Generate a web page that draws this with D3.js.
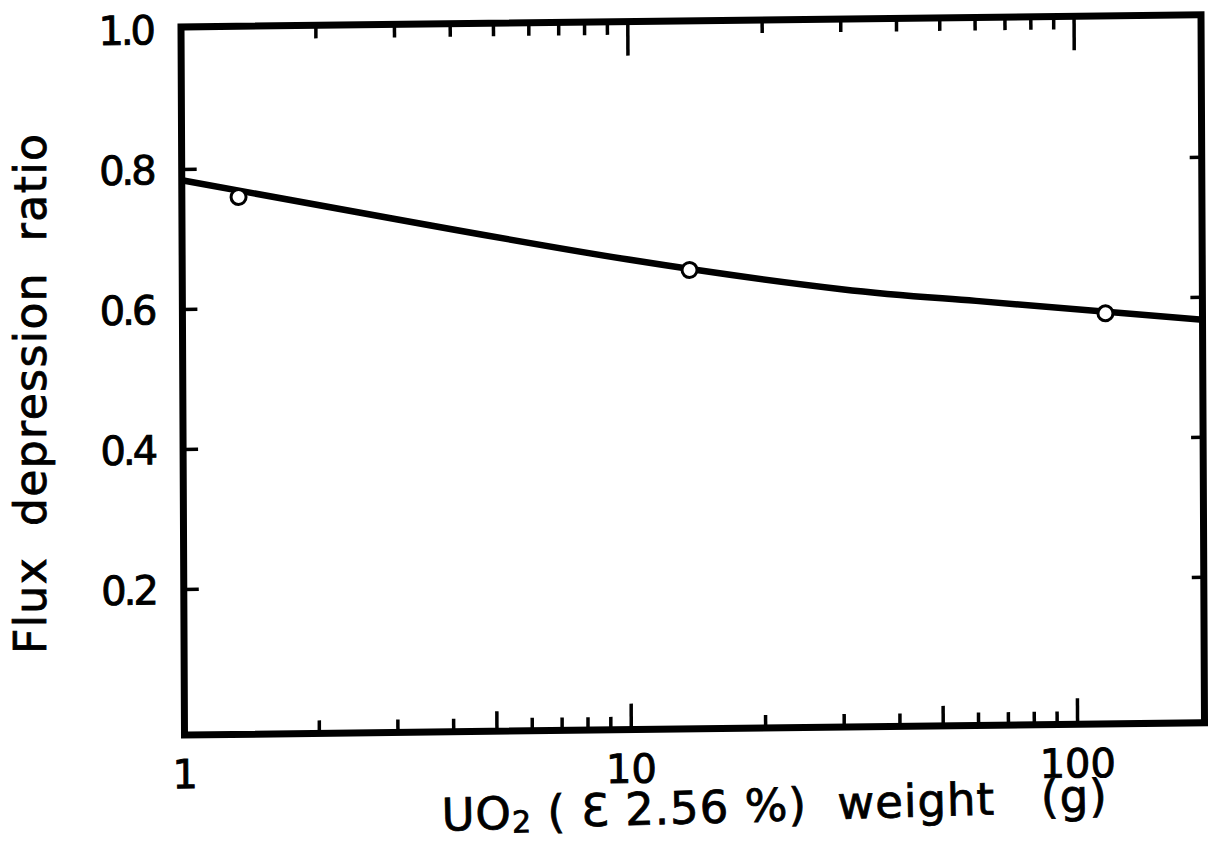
<!DOCTYPE html>
<html>
<head>
<meta charset="utf-8">
<script src="https://cdn.jsdelivr.net/npm/d3@7"></script>
<style>
  body { margin: 0; background: #fff; }
  text { font-family: "DejaVu Sans", sans-serif; fill: #000; white-space: pre; }
</style>
</head>
<body>
<svg id="chart" width="1209" height="846"></svg>
<script>
// measured points (UO2 weight in g, flux depression ratio)
var pointWeights = [1.34, 13.7, 117]
var pointRatios = [0.759, 0.647, 0.578]

// fitted curve
var curveWeights = [1, 3, 10, 30, 60, 193]
var curveRatios = [0.784, 0.725, 0.663, 0.617, 0.598, 0.567]

var yTickValues = [0.2, 0.4, 0.6, 0.8, 1.0]
var yTickLabels = ["0.2", "0.4", "0.6", "0.8", "1.0"]
var xMajorTicks = [1, 10, 100]
var xMidTicks = [5, 50]
var xMinorTicks = [2, 3, 4, 6, 7, 8, 9, 20, 30, 40, 60, 70, 80, 90]

var W = 1020
var H = 708

var svg = d3.select("#chart")

// the original is a slightly skewed scan, so the whole plot is sheared a bit
var g = svg.append("g")
  .attr("transform", "matrix(1, -0.012, 0.00495, 1, 181, 27)")

var x = d3.scaleLog().domain([1, 193]).range([0, W])
var y = d3.scaleLinear().domain([0, 1]).range([702, 2])

function tickAxis(axisFn, scale, values, size, tx, ty) {
  g.append("g")
    .attr("transform", "translate(" + tx + "," + ty + ")")
    .call(axisFn(scale).tickValues(values).tickSize(-size).tickFormat(""))
    .call(function(s) {
      s.select(".domain").remove()
      s.selectAll("line").attr("stroke", "#000").attr("stroke-width", 3.5)
    })
}

// bottom and top ticks point into the frame
tickAxis(d3.axisBottom, x, xMinorTicks, 13, 0, H)
tickAxis(d3.axisBottom, x, xMidTicks, 20, 0, H)
tickAxis(d3.axisBottom, x, xMajorTicks.slice(1), 26, 0, H)
tickAxis(d3.axisTop, x, xMinorTicks, 13, 0, 0)
tickAxis(d3.axisTop, x, xMidTicks, 13, 0, 0)
tickAxis(d3.axisTop, x, xMajorTicks.slice(1), 34, 0, 0)
tickAxis(d3.axisLeft, y, yTickValues.slice(0, 4), 15, 0, 0)
tickAxis(d3.axisRight, y, yTickValues.slice(0, 4), 12, W, 0)

// x tick labels
g.append("g")
  .attr("transform", "translate(0," + H + ")")
  .call(d3.axisBottom(x).tickValues(xMajorTicks).tickSize(0).tickPadding(0)
    .tickFormat(d3.format("d")))
  .call(function(s) {
    s.select(".domain").remove()
    s.selectAll("text")
      .attr("y", 53)
      .attr("dy", null)
      .attr("font-size", 40)
      .attr("stroke", "#000")
      .attr("stroke-width", 0.9)
      .style("font-family", "DejaVu Sans")
  })

// y tick labels
g.append("g")
  .call(d3.axisLeft(y).tickValues(yTickValues).tickSize(0).tickPadding(28)
    .tickFormat(function(d, i) { return yTickLabels[i] }))
  .call(function(s) {
    s.select(".domain").remove()
    s.selectAll("text")
      .attr("dy", "0.36em")
      .attr("font-size", 40)
      .attr("letter-spacing", -3)
      .attr("stroke", "#000")
      .attr("stroke-width", 0.9)
      .style("font-family", "DejaVu Sans")
  })

var curve = d3.line()
  .x(function(d) { return x(d[0]) })
  .y(function(d) { return y(d[1]) })
  .curve(d3.curveNatural)

g.append("path")
  .datum(d3.zip(curveWeights, curveRatios))
  .attr("d", curve)
  .attr("fill", "none")
  .attr("stroke", "#000")
  .attr("stroke-width", 6.5)

g.selectAll(".point")
  .data(d3.zip(pointWeights, pointRatios))
  .enter().append("circle")
  .attr("class", "point")
  .attr("cx", function(d) { return x(d[0]) })
  .attr("cy", function(d) { return y(d[1]) })
  .attr("r", 7.5)
  .attr("fill", "#fff")
  .attr("stroke", "#000")
  .attr("stroke-width", 3)

// frame
g.append("rect")
  .attr("x", 0)
  .attr("y", 0)
  .attr("width", W)
  .attr("height", H)
  .attr("fill", "none")
  .attr("stroke", "#000")
  .attr("stroke-width", 7)

// axis titles
var xTitle = g.append("text")
  .attr("transform", "translate(590,801) rotate(-1.0)")
  .attr("text-anchor", "middle")
  .attr("font-size", 45)
  .attr("letter-spacing", 1)
  .attr("stroke", "#000")
  .attr("stroke-width", 0.8)
xTitle.append("tspan").text("UO")
xTitle.append("tspan").attr("font-size", 30).attr("dy", 4).text("2")
xTitle.append("tspan").attr("dy", -4).text(" ( \u0190 2.56 %)  weight   (g)")

svg.append("text")
  .attr("transform", "translate(46,394) rotate(-90)")
  .attr("text-anchor", "middle")
  .attr("font-size", 44)
  .attr("stroke", "#000")
  .attr("stroke-width", 0.8)
  .attr("textLength", 520)
  .attr("lengthAdjust", "spacing")
  .text("Flux  depression  ratio")
</script>
</body>
</html>
